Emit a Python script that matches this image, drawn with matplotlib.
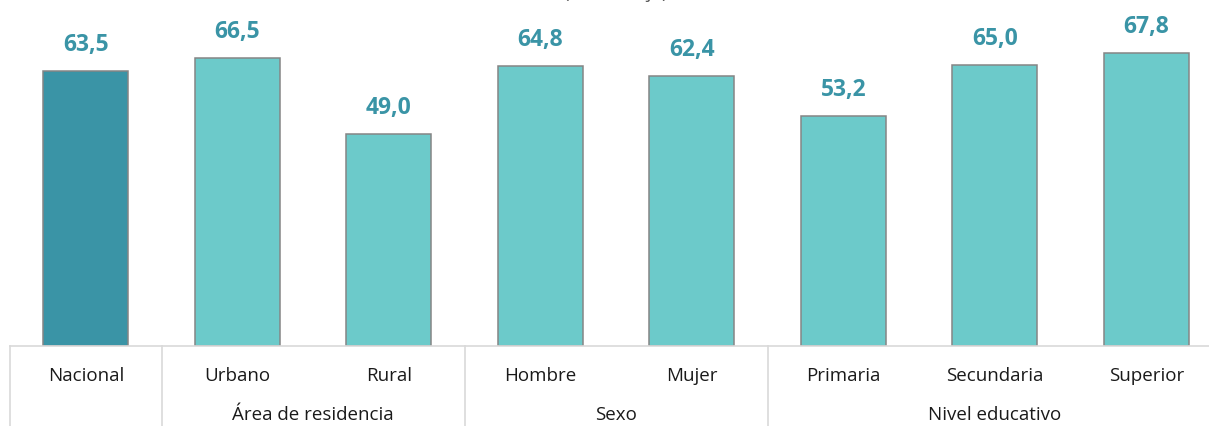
import numpy as np
import matplotlib.pyplot as plt
import matplotlib.transforms as mtransforms

categories = ["Nacional", "Urbano", "Rural", "Hombre", "Mujer",
              "Primaria", "Secundaria", "Superior"]
values = [63.5, 66.5, 49.0, 64.8, 62.4, 53.2, 65.0, 67.8]
labels = ["63,5", "66,5", "49,0", "64,8", "62,4", "53,2", "65,0", "67,8"]
# groups: (name, first index, last index)
groups = [("Área de residencia", 1, 2), ("Sexo", 3, 4), ("Nivel educativo", 5, 7)]
title = "(Porcentaje)"

DARK = "#3A94A6"
LIGHT = "#6CCACA"
EDGE = "#858585"
GRID = "#D9D9D9"
TXT = "#1a1a1a"

plt.rcParams['font.family'] = ['Open Sans', 'DejaVu Sans']

W, H = 1209, 426
fig = plt.figure(figsize=(W / 100, H / 100), dpi=100)
# axes: left edge at 10px, 151.5px per category, baseline at 346px
ax = fig.add_axes([10 / W, (H - 346) / H, 8 * 151.5 / W, 346 / H])

x = np.arange(len(categories))
colors = [DARK] + [LIGHT] * (len(categories) - 1)
ax.bar(x, values, width=0.56, color=colors, edgecolor=EDGE, linewidth=1.1)
ax.set_xlim(-0.5, len(categories) - 0.5)
ax.set_ylim(0, 80)

for xi, v, lab in zip(x, values, labels):
    ax.annotate(lab, (xi, v), xytext=(0, 10), textcoords="offset points",
                ha="center", va="bottom", fontsize=16.5, fontweight="bold",
                color=DARK)

for s in ["top", "right", "left"]:
    ax.spines[s].set_visible(False)
ax.spines["bottom"].set_color(GRID)
ax.spines["bottom"].set_linewidth(1.2)
ax.set_xticks([])
ax.set_yticks([])

trans = mtransforms.blended_transform_factory(ax.transData, ax.transAxes)
px = 1 / 346  # one pixel in axes-y units

for xi, cat in zip(x, categories):
    ax.text(xi, -30 * px, cat, transform=trans, ha="center", va="center",
            fontsize=13.5, color=TXT, clip_on=False)

for name, i0, i1 in groups:
    ax.text((i0 + i1) / 2, -69 * px, name, transform=trans, ha="center",
            va="center", fontsize=13.5, color=TXT, clip_on=False)

# separator lines below the axis
for sep in [-0.5, 0.5, 2.5, 4.5]:
    ax.plot([sep, sep], [0, -90 * px], transform=trans, color=GRID,
            linewidth=1.2, clip_on=False)

# title sits mostly above the visible area, as in the cropped original
fig.text((10 + 4 * 151.5) / W, 1.0 + 6.5 / H, title, ha="center", va="center",
         fontsize=13.5, color="#595959")

fig.savefig("out.png", dpi=100)
